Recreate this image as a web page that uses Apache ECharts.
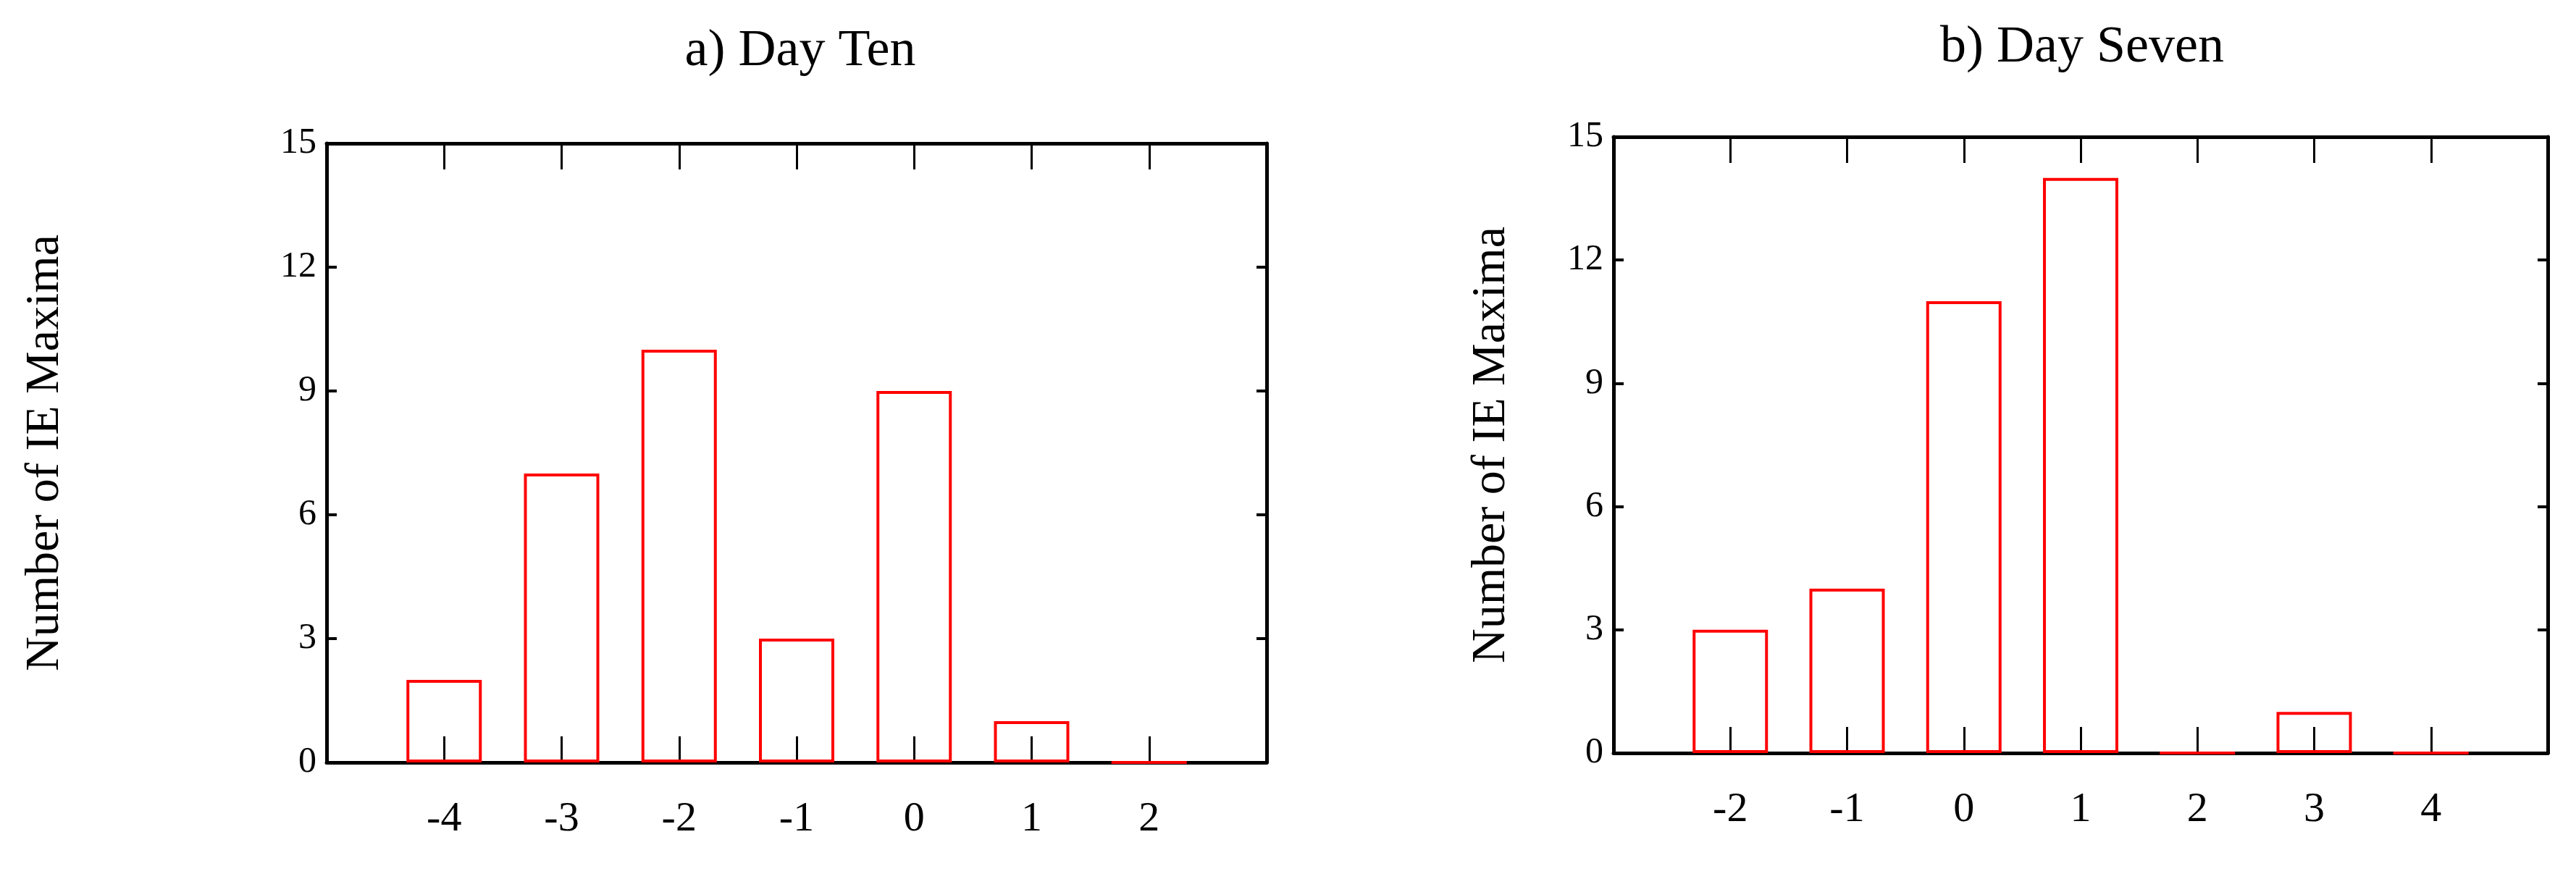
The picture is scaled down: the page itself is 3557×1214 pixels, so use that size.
<!DOCTYPE html>
<html><head><meta charset="utf-8">
<script src="https://cdn.jsdelivr.net/npm/echarts@6/dist/echarts.min.js"></script>
<style>body{margin:0;background:#fff}#main{width:3557px;height:1214px}</style>
</head><body><div id="main"></div>
<script>
// Day Ten
const catsA = [-4, -3, -2, -1, 0, 1, 2];
const valsA = [2, 7, 10, 3, 9, 1, 0];
// Day Seven
const catsB = [-2, -1, 0, 1, 2, 3, 4];
const valsB = [3, 4, 11, 14, 0, 1, 0];
const yTicks = [0, 3, 6, 9, 12, 15];

const font = 'Liberation Serif';
const chart = echarts.init(document.getElementById('main'));

function xAxes(idx, cats) {
  const lo = cats[0] - 1, hi = cats[cats.length - 1] + 1;
  const base = {
    gridIndex: idx, type: 'value', min: lo, max: hi, interval: 1,
    splitLine: { show: false },
    axisLine: { onZero: false, lineStyle: { color: '#000', width: 5 } },
    axisTick: { inside: true, length: 36, lineStyle: { color: '#000', width: 3 },
      customValues: cats }
  };
  return [
    Object.assign({}, base, { position: 'bottom',
      axisLabel: { customValues: cats, fontFamily: font, fontSize: 58, color: '#000', margin: 50 } }),
    Object.assign({}, base, { position: 'top', axisLabel: { show: false } })
  ];
}
function yAxes(idx) {
  const base = {
    gridIndex: idx, type: 'value', min: 0, max: 15, interval: 3,
    splitLine: { show: false },
    axisLine: { onZero: false, lineStyle: { color: '#000', width: 5 } },
    axisTick: { inside: true, length: 14, lineStyle: { color: '#000', width: 4 },
      customValues: yTicks }
  };
  return [
    Object.assign({}, base, { position: 'left', name: 'Number of IE Maxima',
      nameLocation: 'middle', nameGap: idx === 0 ? 355 : 135,
      nameTextStyle: { fontFamily: font, fontSize: 66, color: '#000' },
      axisLabel: { fontFamily: font, fontSize: 50, color: '#000', margin: 14 } }),
    Object.assign({}, base, { position: 'right', axisLabel: { show: false } })
  ];
}
function bars(xi, yi, cats, vals) {
  return {
    type: 'bar', xAxisIndex: xi, yAxisIndex: yi, barWidth: 104, z: 5,
    data: cats.map((c, i) => [c, vals[i]]),
    itemStyle: { color: 'rgba(255,255,255,0)', borderColor: '#ff0000', borderWidth: 4 },
    silent: true
  };
}

chart.setOption({
  animation: false,
  title: [
    { text: 'a) Day Ten', left: 1100, top: 30, textAlign: 'center',
      textStyle: { fontFamily: font, fontSize: 72, fontWeight: 'normal', color: '#000' } },
    { text: 'b) Day Seven', left: 2870, top: 25, textAlign: 'center',
      textStyle: { fontFamily: font, fontSize: 72, fontWeight: 'normal', color: '#000' } }
  ],
  grid: [
    { left: 451, top: 198, width: 1298, height: 855 },
    { left: 2228, top: 189, width: 1290, height: 851 }
  ],
  xAxis: [...xAxes(0, catsA), ...xAxes(1, catsB)],
  yAxis: [...yAxes(0), ...yAxes(1)],
  series: [bars(0, 0, catsA, valsA), bars(2, 2, catsB, valsB)]
});
</script></body></html>
